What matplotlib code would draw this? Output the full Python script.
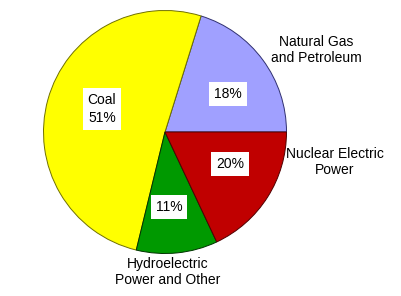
import matplotlib
matplotlib.use("Agg")
import matplotlib.pyplot as plt

# slices as drawn, counterclockwise from 3 o'clock
sources = ["Natural Gas\nand Petroleum", "Coal", "Hydroelectric\nPower and Other", "Nuclear Electric\nPower"]
shares = [20.2, 51.0, 10.8, 18.0]
pct_text = ["18%", "51%", "11%", "20%"]
colors = ["#a0a0ff", "#ffff00", "#009900", "#c00000"]
edges = ["#303070", "#707000", "#003300", "#500000"]

W, H = 401, 296
fig = plt.figure(figsize=(W / 100, H / 100), dpi=100)
ax = fig.add_axes([0, 0, 1, 1])

wedges, _ = ax.pie(shares, colors=colors, startangle=0, counterclock=True,
                   center=(165, H - 132), radius=121.5, frame=True,
                   wedgeprops=dict(linewidth=0.7))
for w, ec in zip(wedges, edges):
    w.set_edgecolor(ec)
ax.set_xlim(0, W)
ax.set_ylim(0, H)
ax.set_aspect("equal")
ax.axis("off")

font = dict(family=["Liberation Sans", "DejaVu Sans"], fontsize=10, color="black")
box = dict(facecolor="white", edgecolor="none", pad=3.5)

# percent labels inside slices (pixel positions from top)
inner_pos = [(228, 94), (102, 109), (169, 207), (230, 164)]
for (x, y), txt, src in zip(inner_pos, pct_text, sources):
    s = txt if src != "Coal" else "Coal\n" + txt
    ax.text(x, H - y, s, ha="center", va="center", bbox=box, linespacing=1.4, **font)

# outer category labels
outer_pos = {sources[0]: (316, 50), sources[2]: (168, 272), sources[3]: (335, 162)}
for src, (x, y) in outer_pos.items():
    ax.text(x, H - y, src, ha="center", va="center", linespacing=1.2, **font)

fig.savefig("out.png", dpi=100, facecolor="white")
